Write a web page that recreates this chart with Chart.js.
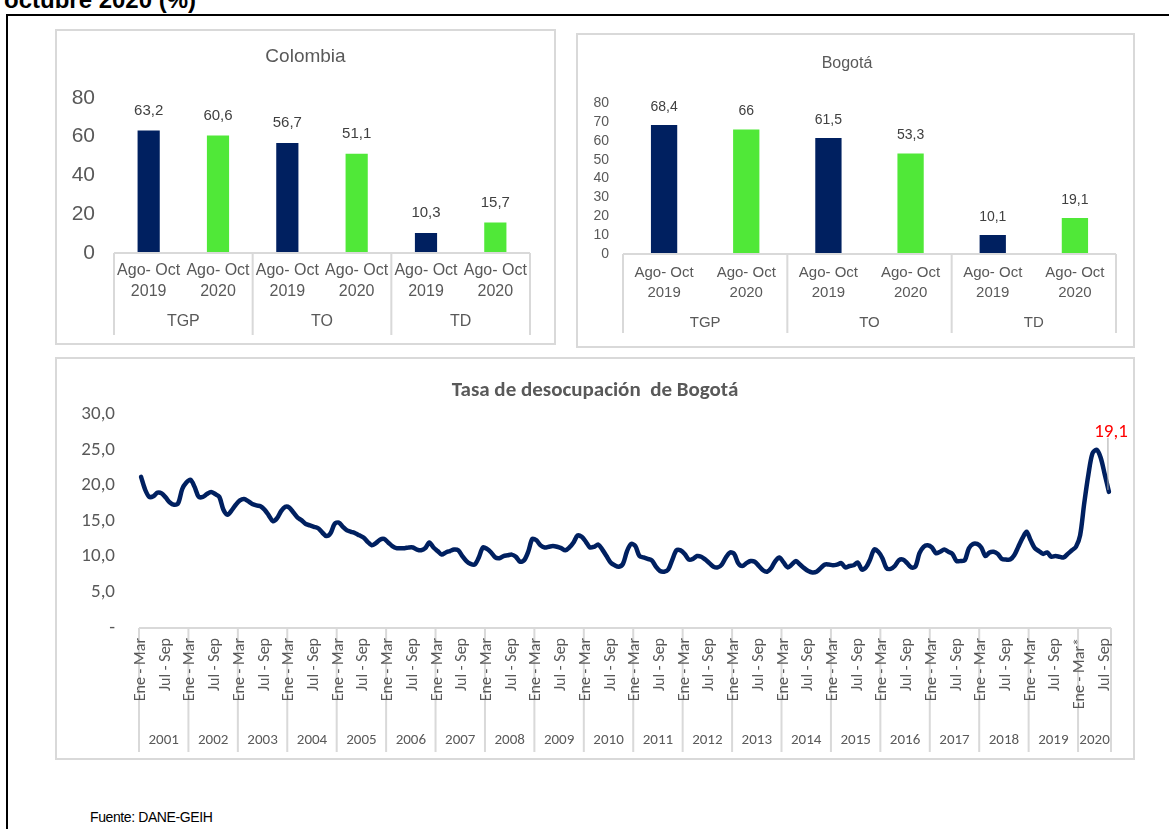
<!DOCTYPE html>
<html lang="es">
<head>
<meta charset="utf-8">
<title>Mercado laboral Colombia y Bogotá</title>
<script src="https://cdn.jsdelivr.net/npm/chart.js@4.4.1/dist/chart.umd.min.js"></script>
<style>
    body {
        margin: 0;
        width: 1169px;
        height: 829px;
        overflow: hidden;
        background: #ffffff;
        position: relative;
        font-family: "Liberation Sans", Arial, sans-serif;
    }
    .heading {
        position: absolute;
        left: 4px;
        top: -12px;
        font: bold 24px/24px "Liberation Sans", Arial, sans-serif;
        color: #000000;
        white-space: nowrap;
    }
    .frame {
        position: absolute;
        left: 6px;
        top: 14px;
        width: 1300px;
        height: 1000px;
        border: 2px solid #000000;
    }
    .box {
        position: absolute;
        box-sizing: border-box;
        border: 2px solid #d9d9d9;
        background: #ffffff;
    }
    .box canvas {
        display: block;
    }
    #colombiaBox { left: 55px; top: 29px; width: 501px; height: 316px; }
    #bogotaBox { left: 576px; top: 33px; width: 559px; height: 315px; }
    #lineBox { left: 55px; top: 357px; width: 1080px; height: 403px; }
    .source {
        position: absolute;
        left: 90px;
        top: 809px;
        font: 14px "Liberation Sans", Arial, sans-serif;
        letter-spacing: -0.4px;
        color: #000000;
    }
</style>
</head>
<body>

<div class="heading">octubre 2020 (%)</div>
<div class="frame"></div>

<div class="box" id="colombiaBox"><canvas id="colombiaChart"></canvas></div>
<div class="box" id="bogotaBox"><canvas id="bogotaChart"></canvas></div>
<div class="box" id="lineBox"><canvas id="lineChart"></canvas></div>

<div class="source">Fuente: DANE-GEIH</div>

<script>
/*
============================================================
Data
============================================================
*/

const indicators = ["TGP", "TO", "TD"];

const periods = ["2019", "2020"];

const colombiaValues = [63.2, 60.6, 56.7, 51.1, 10.3, 15.7];

const bogotaValues = [68.4, 66, 61.5, 53.3, 10.1, 19.1];

const quarters = [
    "Ene - Mar", "Feb - Abr", "Mar - May", "Abr - Jun",
    "May - Jul", "Jun - Ago", "Jul - Sep", "Ago - Oct",
    "Sep - Nov", "Oct - Dic", "Nov - Ene", "Dic - Feb"
];

const years = [
    2001, 2002, 2003, 2004, 2005, 2006, 2007, 2008, 2009, 2010,
    2011, 2012, 2013, 2014, 2015, 2016, 2017, 2018, 2019, 2020
];

const quartersPerYear = [
    12, 12, 12, 12, 12, 12, 12, 12, 12, 12,
    12, 12, 12, 12, 12, 12, 12, 12, 12, 8
];

// Tasa de desocupación de Bogotá, trimestre móvil
const bogotaUnemployment = [
    21.2, 19.4, 18.4, 18.5, 19.0, 18.9, 18.3, 17.6, 17.3, 17.5, 19.5, 20.4, // 2001
    20.8, 19.8, 18.4, 18.4, 18.8, 19.1, 18.8, 18.4, 16.6, 15.9, 16.5, 17.3, // 2002
    17.9, 18.1, 17.8, 17.4, 17.2, 17.1, 16.6, 15.8, 15.0, 15.4, 16.4, 17.0, // 2003
    16.9, 16.2, 15.5, 15.1, 14.6, 14.4, 14.2, 14.0, 13.4, 12.9, 13.3, 14.6, // 2004
    14.8, 14.2, 13.7, 13.5, 13.3, 13.0, 12.7, 12.1, 11.6, 11.9, 12.4, 12.5, // 2005
    12.0, 11.5, 11.2, 11.2, 11.2, 11.3, 11.3, 11.0, 10.9, 11.2, 12.0, 11.3, // 2006
    10.8, 10.3, 10.6, 10.8, 11.0, 10.9, 10.1, 9.4, 9.0, 8.9, 9.9, 11.3,     // 2007
    11.1, 10.6, 9.9, 9.8, 10.1, 10.2, 10.3, 10.0, 9.3, 9.5, 10.7, 12.5,     // 2008
    12.3, 11.6, 11.3, 11.4, 11.5, 11.4, 11.2, 10.9, 11.3, 12.0, 13.0, 12.8, // 2009
    12.1, 11.3, 11.4, 11.7, 11.0, 10.1, 9.2, 8.8, 8.6, 9.0, 10.8, 11.8,     // 2010
    11.5, 10.1, 9.9, 9.7, 9.5, 8.6, 8.0, 7.9, 8.2, 9.6, 10.9, 10.9,         // 2011
    10.4, 9.6, 9.7, 10.1, 10.0, 9.6, 9.1, 8.6, 8.5, 8.9, 9.9, 10.6,         // 2012
    10.4, 9.1, 8.7, 9.1, 9.4, 9.3, 8.7, 8.1, 7.9, 8.4, 9.4, 9.9,            // 2013
    9.2, 8.5, 8.9, 9.4, 8.9, 8.4, 8.0, 7.8, 7.9, 8.4, 8.9, 8.9,             // 2014
    8.8, 8.9, 9.1, 8.5, 8.7, 8.8, 9.2, 8.2, 8.5, 9.6, 11.0, 10.7,           // 2015
    9.8, 8.4, 8.3, 8.7, 9.5, 9.6, 9.1, 8.5, 8.6, 10.5, 11.4, 11.6,          // 2016
    11.3, 10.5, 10.7, 11.0, 10.7, 10.4, 9.4, 9.4, 9.5, 11.2, 11.8, 11.8,    // 2017
    11.3, 10.1, 10.6, 10.7, 10.4, 9.7, 9.6, 9.6, 10.2, 11.4, 12.6, 13.5,    // 2018
    12.3, 11.2, 10.8, 10.4, 10.6, 10.0, 10.1, 10.0, 9.9, 10.4, 10.9, 11.4,  // 2019
    13.0, 17.5, 21.5, 24.5, 25.0, 23.9, 21.5, 19.1                          // 2020
];

/*
============================================================
Styles
============================================================
*/

const NAVY = "#002060";
const GREEN = "#50e838";
const TEXT = "#595959";
const RULE = "#d9d9d9";
const ARIAL = "'Liberation Sans', Arial, sans-serif";
const CALIBRI = "Carlito, Calibri, Lato, sans-serif";

/*
============================================================
Helpers
============================================================
*/

function formatNumber(value, digits) {

    const text = digits === undefined ? String(value) : value.toFixed(digits);

    return text.replace(".", ",");

}

// Empty right-hand axis that only reserves space, so the title stays centred
function spacerAxis(width) {

    return {
        position: "right",
        display: true,
        afterFit(scale) { scale.width = width; },
        grid: { display: false, drawTicks: false },
        border: { display: false },
        ticks: { display: false }
    };

}

const barLabels = indicators.flatMap(() => periods.map((period) => ["Ago- Oct", period]));

const barColors = indicators.flatMap(() => [NAVY, GREEN]);

const lineLabels = years.flatMap((year, i) =>
    quarters.slice(0, quartersPerYear[i]).map((quarter, q) =>
        year === 2020 && q === 0 ? quarter + "*" : quarter
    )
);

/*
============================================================
Plugins
============================================================
*/

// Axis line, group separators and group labels under the category axis
const groupAxisPlugin = {

    id: "groupAxis",

    afterDraw(chart, args, opts) {

        const { ctx, chartArea } = chart;
        const xScale = chart.scales.x;
        const half = (xScale.getPixelForValue(1) - xScale.getPixelForValue(0)) / 2;
        const bottom = chartArea.bottom;

        const edges = [0];
        opts.counts.forEach((count) => edges.push(edges[edges.length - 1] + count));

        ctx.save();

        ctx.strokeStyle = RULE;
        ctx.lineWidth = opts.lineWidth;
        ctx.beginPath();
        ctx.moveTo(xScale.getPixelForValue(0) - half, bottom);
        ctx.lineTo(xScale.getPixelForValue(edges[edges.length - 1]) - half, bottom);

        edges.forEach((edge) => {
            const x = xScale.getPixelForValue(edge) - half;
            ctx.moveTo(x, bottom);
            ctx.lineTo(x, bottom + opts.lineLength);
        });

        ctx.stroke();

        ctx.fillStyle = TEXT;
        ctx.font = opts.font;
        ctx.textAlign = "center";
        ctx.textBaseline = "middle";

        opts.labels.forEach((label, i) => {
            const left = xScale.getPixelForValue(edges[i]) - half;
            const right = xScale.getPixelForValue(edges[i + 1]) - half;
            ctx.fillText(label, (left + right) / 2, bottom + opts.labelOffset);
        });

        // Optional vertical tick labels (every n-th category of each group)
        if (opts.tickFont) {

            ctx.font = opts.tickFont;
            ctx.textAlign = "right";

            edges.slice(0, -1).forEach((edge, i) => {
                opts.tickSteps.forEach((step) => {
                    const index = edge + step;
                    if (index >= edges[i + 1]) return;
                    ctx.save();
                    ctx.translate(xScale.getPixelForValue(index), bottom + opts.tickPadding);
                    ctx.rotate(-Math.PI / 2);
                    ctx.fillText(chart.data.labels[index], 0, 0);
                    ctx.restore();
                });
            });

        }

        ctx.restore();

    }

};

// Value above every bar
const barValuePlugin = {

    id: "barValues",

    afterDatasetsDraw(chart, args, opts) {

        const { ctx } = chart;
        const meta = chart.getDatasetMeta(0);
        const values = chart.data.datasets[0].data;

        ctx.save();
        ctx.fillStyle = "#404040";
        ctx.font = opts.font;
        ctx.textAlign = "center";
        ctx.textBaseline = "middle";

        meta.data.forEach((bar, i) => {
            ctx.fillText(formatNumber(values[i]), bar.x, bar.y - opts.offset);
        });

        ctx.restore();

    }

};

// Red label with leader line on the last point of the line
const lastPointPlugin = {

    id: "lastPoint",

    afterDatasetsDraw(chart) {

        const { ctx } = chart;
        const meta = chart.getDatasetMeta(0);
        const values = chart.data.datasets[0].data;
        const point = meta.data[meta.data.length - 1];

        ctx.save();

        ctx.strokeStyle = "#a6a6a6";
        ctx.lineWidth = 1;
        ctx.beginPath();
        ctx.moveTo(point.x - 1, point.y - 2);
        ctx.lineTo(point.x - 1, point.y - 54);
        ctx.stroke();

        ctx.fillStyle = "#ff0000";
        ctx.font = "19px " + CALIBRI;
        ctx.textAlign = "center";
        ctx.textBaseline = "middle";
        ctx.fillText(formatNumber(values[values.length - 1], 1), point.x + 2, point.y - 60);

        ctx.restore();

    }

};

/*
============================================================
Bar Charts
============================================================
*/

function createBarChart(canvasId, title, values, layout) {

    const canvas = document.getElementById(canvasId);

    const box = canvas.parentElement;

    canvas.width = box.clientWidth;
    canvas.height = box.clientHeight;

    return new Chart(canvas.getContext("2d"), {

        type: "bar",

        data: {
            labels: barLabels,
            datasets: [
                {
                    data: values,
                    backgroundColor: barColors,
                    borderWidth: 0,
                    categoryPercentage: 1,
                    barPercentage: layout.barPercentage
                }
            ]
        },

        options: {

            responsive: false,
            animation: false,

            layout: {
                padding: { left: 0, right: layout.paddingRight, top: 0, bottom: 0 }
            },

            plugins: {
                legend: { display: false },
                tooltip: { enabled: false },
                title: {
                    display: true,
                    text: title,
                    color: TEXT,
                    font: { family: ARIAL, size: layout.titleSize, weight: "normal" },
                    padding: { top: layout.titleTop, bottom: layout.titleBottom }
                },
                groupAxis: {
                    labels: indicators,
                    counts: indicators.map(() => periods.length),
                    font: layout.tickSize + "px " + ARIAL,
                    labelOffset: layout.groupOffset,
                    lineLength: layout.ruleLength,
                    lineWidth: 2
                },
                barValues: {
                    font: layout.valueSize + "px " + ARIAL,
                    offset: layout.valueOffset
                }
            },

            scales: {

                x: {
                    afterFit(scale) { scale.height = layout.xHeight; },
                    grid: { display: false, drawTicks: false },
                    border: { display: false },
                    ticks: {
                        color: TEXT,
                        padding: layout.tickPadding,
                        maxRotation: 0,
                        autoSkip: false,
                        font: { family: ARIAL, size: layout.tickSize, lineHeight: layout.tickLineHeight }
                    }
                },

                y: {
                    min: 0,
                    max: 80,
                    afterFit(scale) { scale.width = layout.yWidth; },
                    grid: { display: false, drawTicks: false },
                    border: { display: false },
                    ticks: {
                        stepSize: layout.stepSize,
                        autoSkip: false,
                        color: TEXT,
                        padding: layout.yPadding,
                        font: { family: ARIAL, size: layout.yTickSize }
                    }
                },

                spacer: spacerAxis(layout.spacer)

            }

        },

        plugins: [groupAxisPlugin, barValuePlugin]

    });

}

/*
============================================================
Line Chart
============================================================
*/

function createLineChart(canvasId) {

    const canvas = document.getElementById(canvasId);

    const box = canvas.parentElement;

    canvas.width = box.clientWidth;
    canvas.height = box.clientHeight;

    return new Chart(canvas.getContext("2d"), {

        type: "line",

        data: {
            labels: lineLabels,
            datasets: [
                {
                    data: bogotaUnemployment,
                    borderColor: NAVY,
                    borderWidth: 4.5,
                    borderJoinStyle: "round",
                    borderCapStyle: "round",
                    tension: 0.3,
                    pointRadius: 0,
                    fill: false
                }
            ]
        },

        options: {

            responsive: false,
            animation: false,

            layout: {
                padding: 0
            },

            plugins: {
                legend: { display: false },
                tooltip: { enabled: false },
                title: {
                    display: true,
                    text: "Tasa de desocupación  de Bogotá",
                    color: TEXT,
                    font: { family: CALIBRI, size: 21, weight: "bold" },
                    padding: { top: 19, bottom: 11 }
                },
                groupAxis: {
                    labels: years.map(String),
                    counts: quartersPerYear,
                    font: "15px " + CALIBRI,
                    labelOffset: 112,
                    lineLength: 124,
                    lineWidth: 2,
                    tickFont: "16px " + CALIBRI,
                    tickSteps: [0, 6],
                    tickPadding: 10
                }
            },

            scales: {

                x: {
                    offset: true,
                    afterFit(scale) { scale.height = 130; },
                    grid: { display: false, drawTicks: false },
                    border: { display: false },
                    ticks: { display: false }
                },

                y: {
                    min: 0,
                    max: 30,
                    afterFit(scale) { scale.width = 82; },
                    grid: { display: false, drawTicks: false },
                    border: { display: false },
                    ticks: {
                        stepSize: 5,
                        color: TEXT,
                        padding: 24,
                        font: { family: CALIBRI, size: 19 },
                        callback(value) {
                            return value === 0 ? "-" : formatNumber(value, 1);
                        }
                    }
                },

                spacer: spacerAxis(22)

            }

        },

        plugins: [groupAxisPlugin, lastPointPlugin]

    });

}

/*
============================================================
Initialize
============================================================
*/

createBarChart("colombiaChart", "Colombia", colombiaValues, {
    barPercentage: 0.32,
    paddingRight: 0,
    spacer: 24,
    titleSize: 19,
    titleTop: 14,
    titleBottom: 30,
    tickSize: 16,
    tickLineHeight: 1.3,
    tickPadding: 7,
    xHeight: 90,
    groupOffset: 69,
    ruleLength: 82,
    yWidth: 57,
    yPadding: 19,
    yTickSize: 21,
    stepSize: 20,
    valueSize: 15,
    valueOffset: 20
});

createBarChart("bogotaChart", "Bogotá", bogotaValues, {
    barPercentage: 0.32,
    paddingRight: 17,
    spacer: 0,
    titleSize: 16,
    titleTop: 19,
    titleBottom: 30,
    tickSize: 15,
    tickLineHeight: 1.33,
    tickPadding: 9,
    xHeight: 92,
    groupOffset: 69,
    ruleLength: 79,
    yWidth: 45,
    yPadding: 14,
    yTickSize: 14,
    stepSize: 10,
    valueSize: 14,
    valueOffset: 18
});

createLineChart("lineChart");
</script>

</body>
</html>
